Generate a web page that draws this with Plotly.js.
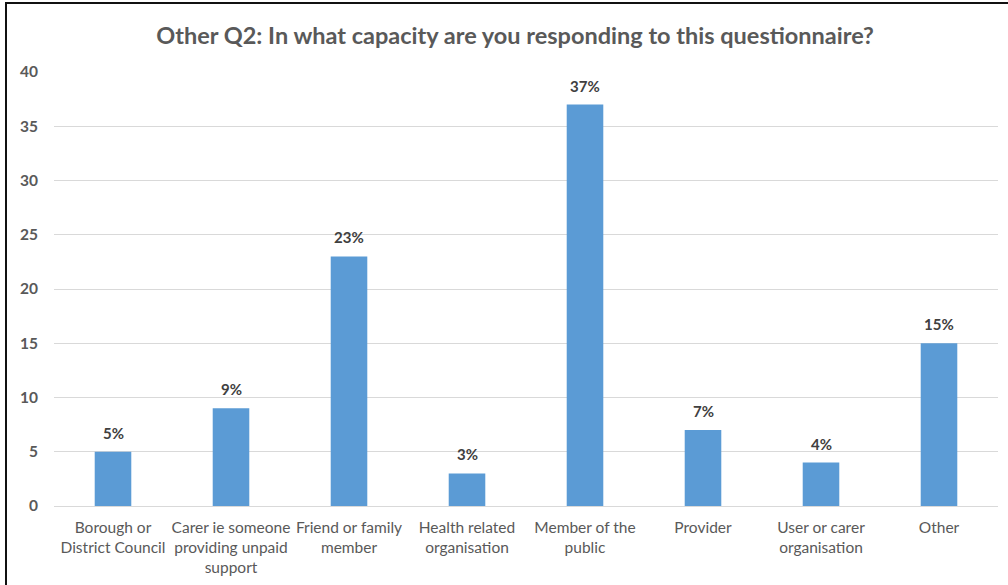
<!DOCTYPE html>
<html>
<head>
<meta charset="utf-8">
<script src="https://cdn.plot.ly/plotly-3.0.1.min.js"></script>
<style>
html,body{margin:0;padding:0;background:#fff;}
#wrap{position:relative;width:1008px;height:585px;}
#chart{width:1008px;height:585px;}
#frame{position:absolute;left:5px;top:2px;width:1010px;height:600px;border-top:2px solid #111;border-left:2px solid #111;pointer-events:none;}
</style>
</head>
<body>
<div id="wrap"><div id="chart"></div><div id="frame"></div></div>
<script>
const categories = [
  "Borough or<br>District Council",
  "Carer ie someone<br>providing unpaid<br>support",
  "Friend or family<br>member",
  "Health related<br>organisation",
  "Member of the<br>public",
  "Provider",
  "User or carer<br>organisation",
  "Other"
];
const values = [5, 9, 23, 3, 37, 7, 4, 15];
const labels = values.map(v => v + "%");
const yTicks = [0, 5, 10, 15, 20, 25, 30, 35, 40];

const FONT = "Lato, 'Open Sans', sans-serif";

const trace = {
  type: "bar",
  x: categories,
  y: values,
  marker: {color: "#5B9BD5"},
  hoverinfo: "none"
};

const annotations = categories.map((c, i) => ({
  x: c, y: values[i], xref: "x", yref: "y",
  text: "<b>" + labels[i] + "</b>",
  showarrow: false,
  yanchor: "bottom",
  yshift: 8,
  font: {family: FONT, size: 15, color: "#404040"}
}));

const layout = {
  width: 1008,
  height: 585,
  margin: {l: 54, r: 10, t: 72, b: 79},
  paper_bgcolor: "#ffffff",
  plot_bgcolor: "#ffffff",
  bargap: 0.69,
  showlegend: false,
  annotations: annotations,
  title: {
    text: "<b>Other Q2: In what capacity are you responding to this questionnaire?</b>",
    x: 0.511, xanchor: "center", y: 0.938, yanchor: "middle",
    font: {family: FONT, size: 23.5, color: "#595959"}
  },
  xaxis: {
    type: "category",
    showgrid: false,
    showline: true,
    linecolor: "#d9d9d9",
    linewidth: 1,
    ticks: "",
    tickfont: {family: FONT, size: 15.5, color: "#595959"},
    ticklabelstandoff: 7
  },
  yaxis: {
    range: [0, 40],
    tickvals: yTicks,
    ticktext: yTicks.map(String),
    showgrid: true,
    gridcolor: "#d9d9d9",
    gridwidth: 1,
    zeroline: false,
    showline: false,
    ticks: "",
    tickfont: {family: FONT, size: 15.5, color: "#595959", weight: "bold"},
    ticklabelstandoff: 15
  }
};

Plotly.newPlot("chart", [trace], layout, {displayModeBar: false, staticPlot: true});
</script>
</body>
</html>
